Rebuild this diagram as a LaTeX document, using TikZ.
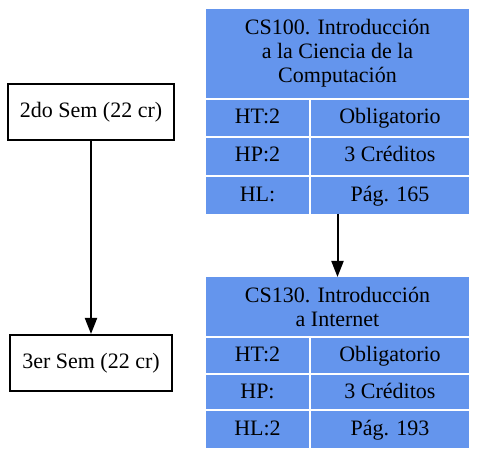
\documentclass[tikz,border=0pt]{standalone}
\usepackage{fontspec}
\setmainfont{Liberation Serif}
\usetikzlibrary{arrows.meta}
\definecolor{cblue}{RGB}{100,149,237}
\begin{document}
\begin{tikzpicture}[x=1pt,y=-1pt,
  font=\fontsize{22}{24}\selectfont,
  sembox/.style={draw=black, line width=2pt, fill=white, minimum height=56pt, inner sep=0pt},
  tbl/.style={fill=cblue, minimum width=263pt, inner sep=0pt, outer sep=0pt, anchor=north west},
  cell/.style={inner sep=0pt, anchor=base, align=center},
  hcell/.style={inner sep=0pt, anchor=center, align=center},
  sep/.style={draw=white, line width=2pt},
  link/.style={draw=black, line width=2pt, -{Triangle[length=16pt,width=12pt]}}
]
\useasboundingbox (0,0) rectangle (477,457);

% semester boxes
\node[sembox, minimum width=166pt] (sem2) at (91,112) {2do Sem (22 cr)};
\node[sembox, minimum width=162pt] (sem3) at (91,363) {3er Sem (22 cr)};
\draw[link] (sem2) -- (sem3);

% CS100 table
\node[tbl, minimum height=205pt] (cs100) at (206,9) {};
\draw[sep] (206,99) -- (469,99);
\draw[sep] (206,137) -- (469,137);
\draw[sep] (206,176) -- (469,176);
\draw[sep] (310,99) -- (310,214);
\node[hcell] (cs100h) at (337.5,53.5) {CS100. Introducción\\a la Ciencia de la\\Computación};
\node[cell] (cs100a) at (257.5,124) {HT:2};
\node[cell] (cs100b) at (390,124) {Obligatorio};
\node[cell] (cs100c) at (257.5,162) {HP:2};
\node[cell] (cs100d) at (390,162) {3 Créditos};
\node[cell] (cs100e) at (257.5,201.5) {HL:};
\node[cell] (cs100f) at (390,201.5) {Pág. 165};

% CS130 table
\node[tbl, minimum height=170.7pt] (cs130) at (206,277) {};
\draw[sep] (206,337) -- (469,337);
\draw[sep] (206,374) -- (469,374);
\draw[sep] (206,410) -- (469,410);
\draw[sep] (310,337) -- (310,447.7);
\node[hcell] (cs130h) at (337.5,306.5) {CS130. Introducción\\a Internet};
\node[cell] (cs130a) at (257.5,361.5) {HT:2};
\node[cell] (cs130b) at (390,361.5) {Obligatorio};
\node[cell] (cs130c) at (257.5,398) {HP:};
\node[cell] (cs130d) at (390,398) {3 Créditos};
\node[cell] (cs130e) at (257.5,435.5) {HL:2};
\node[cell] (cs130f) at (390,435.5) {Pág. 193};

\draw[link] (cs100.south) -- (cs130.north);
\end{tikzpicture}
\end{document}
